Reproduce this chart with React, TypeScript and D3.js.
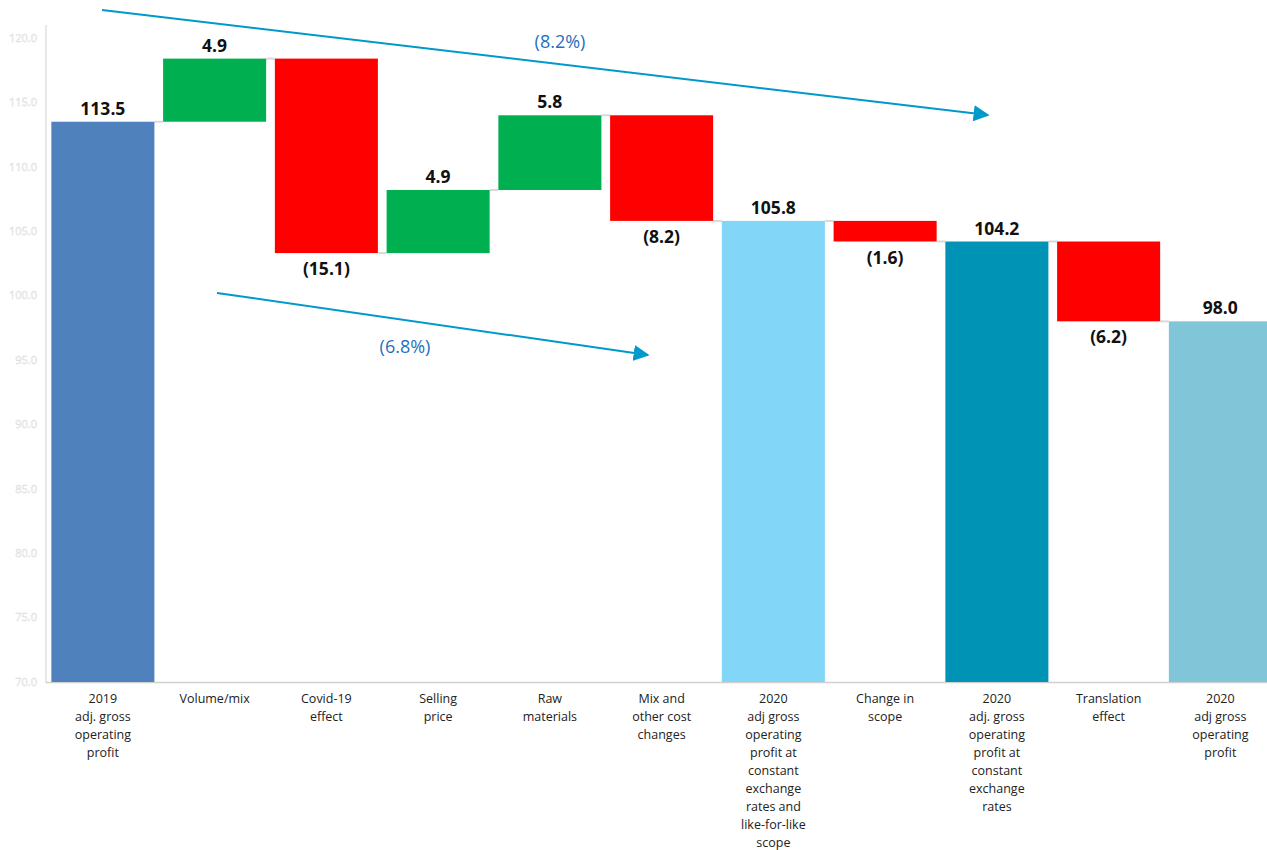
import React from "react";
import * as d3 from "d3";

const categories = [
  "2019|adj. gross|operating|profit",
  "Volume/mix",
  "Covid-19|effect",
  "Selling|price",
  "Raw|materials",
  "Mix and|other cost|changes",
  "2020|adj gross|operating|profit at|constant|exchange|rates and|like-for-like|scope",
  "Change in|scope",
  "2020|adj. gross|operating|profit at|constant|exchange|rates",
  "Translation|effect",
  "2020|adj gross|operating|profit",
];
// kind: "total" bars start at axis min, "delta" bars float
const kinds = ["total", "delta", "delta", "delta", "delta", "delta", "total", "delta", "total", "delta", "total"];
const values = [113.5, 4.9, -15.1, 4.9, 5.8, -8.2, 105.8, -1.6, 104.2, -6.2, 98.0];
const totalColors = ["#4F81BD", "", "", "", "", "", "#82D6F8", "", "#0093B6", "", "#80C5D8"];
const yTicks = [70, 75, 80, 85, 90, 95, 100, 105, 110, 115, 120];

const arrows = [
  { x1: 102, y1: 10, x2: 988, y2: 115, label: "(8.2%)", lx: 560, ly: 48 },
  { x1: 217, y1: 293, x2: 648, y2: 355, label: "(6.8%)", lx: 405, ly: 353 },
];

const W = 1267;
const H = 850;

export default function App() {
  const x = d3
    .scaleBand<string>()
    .domain(categories)
    .range([47, 47 + 11 * 111.75])
    .paddingInner(0.078)
    .paddingOuter(0.039);
  const y = d3.scaleLinear().domain([70, 120]).range([682, 38]);

  let running = 0;
  const bars = categories.map((c, i) => {
    const v = values[i];
    let lo: number, hi: number, level: number;
    if (kinds[i] === "total") {
      lo = 70;
      hi = v;
      running = v;
      level = v;
    } else {
      const start = running;
      const end = running + v;
      lo = Math.min(start, end);
      hi = Math.max(start, end);
      running = end;
      level = end;
    }
    const color =
      kinds[i] === "total" ? totalColors[i] : v >= 0 ? "#00B050" : "#FF0000";
    const label = v < 0 ? `(${Math.abs(v).toFixed(1)})` : v.toFixed(1);
    return { c, v, lo, hi, level, color, label, kind: kinds[i] };
  });

  const bw = x.bandwidth();

  return (
    <svg
      width={W}
      height={H}
      style={{ position: "absolute", left: 0, top: 0, background: "#fff" }}
      fontFamily="'Open Sans', sans-serif"
    >
      <defs>
        <marker
          id="ah"
          viewBox="0 0 10 10"
          refX="9"
          refY="5"
          markerWidth="8"
          markerHeight="8"
          markerUnits="strokeWidth"
          orient="auto"
        >
          <path d="M0,0 L10,5 L0,10 z" fill="#0099CC" />
        </marker>
      </defs>

      <line x1={46} x2={46} y1={25} y2={683} stroke="#d0d0d0" strokeWidth={1} />
      <line x1={46} x2={W} y1={682.5} y2={682.5} stroke="#d0d0d0" strokeWidth={1.5} />
      {yTicks.map((t) => (
        <text
          key={t}
          x={37}
          y={y(t)}
          dy="0.35em"
          textAnchor="end"
          fontSize={11}
          fill="#ffffff"
          stroke="#dcdcdc"
          strokeWidth={0.5}
        >
          {t.toFixed(1)}
        </text>
      ))}

      {bars.slice(0, -1).map((b, i) => {
        const x1 = (x(b.c) as number) + bw;
        const x2 = x(categories[i + 1]) as number;
        return (
          <line
            key={"c" + i}
            x1={x1}
            x2={x2}
            y1={y(b.level)}
            y2={y(b.level)}
            stroke="#d9d9d9"
            strokeWidth={2}
          />
        );
      })}

      {bars.map((b) => (
        <rect
          key={b.c}
          x={x(b.c)}
          y={y(b.hi)}
          width={bw}
          height={y(b.lo) - y(b.hi)}
          fill={b.color}
        />
      ))}

      {bars.map((b) => {
        const cx = (x(b.c) as number) + bw / 2;
        const below = b.v < 0 && b.kind === "delta";
        const ty = below ? y(b.lo) + 16 : y(b.hi) - 13;
        return (
          <text
            key={"l" + b.c}
            x={cx}
            y={ty}
            dy="0.35em"
            textAnchor="middle"
            fontSize={17.5}
            fontWeight={700}
            fill="#111"
          >
            {b.label}
          </text>
        );
      })}

      {bars.map((b) => {
        const cx = (x(b.c) as number) + bw / 2;
        const lines = b.c.split("|");
        return (
          <text
            key={"x" + b.c}
            x={cx}
            y={699}
            textAnchor="middle"
            fontSize={12.5}
            fill="#222"
          >
            {lines.map((ln, k) => (
              <tspan key={k} x={cx} y={699 + k * 18} dy="0.35em">
                {ln}
              </tspan>
            ))}
          </text>
        );
      })}

      {arrows.map((a, i) => (
        <g key={"a" + i}>
          <line
            x1={a.x1}
            y1={a.y1}
            x2={a.x2}
            y2={a.y2}
            stroke="#0099CC"
            strokeWidth={2}
            markerEnd="url(#ah)"
          />
          <text
            x={a.lx}
            y={a.ly}
            textAnchor="middle"
            fontSize={18}
            fontWeight={400}
            fill="#1F6FC0"
          >
            {a.label}
          </text>
        </g>
      ))}
    </svg>
  );
}
